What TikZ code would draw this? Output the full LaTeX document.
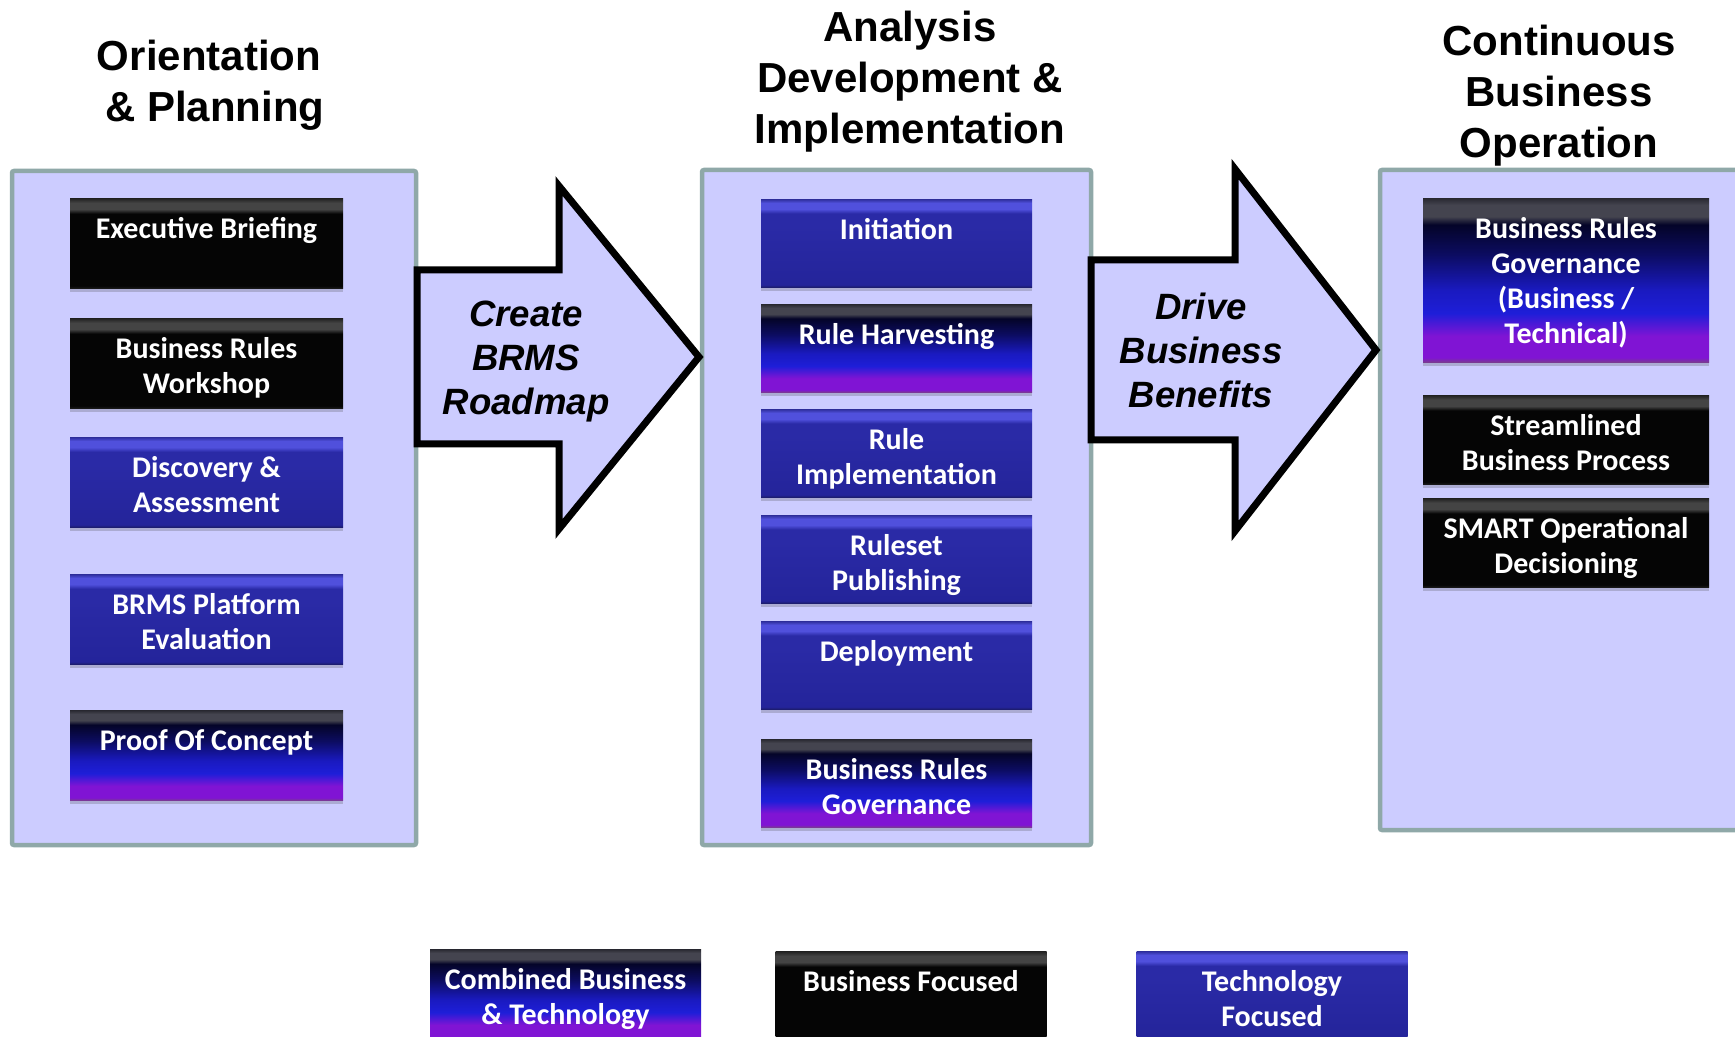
\documentclass[tikz,border=0pt]{standalone}
\usepackage{fontspec}
\setmainfont{Carlito}
\newfontfamily\headfont{Liberation Sans}
\usetikzlibrary{shadows}

\definecolor{panelfill}{HTML}{CCCCFF}
\definecolor{panelrim}{HTML}{8FA8A8}
% black "business" boxes
\definecolor{bizedge}{HTML}{1A1A1A}
\definecolor{bizbody}{HTML}{050505}
\definecolor{bizbevel}{HTML}{444444}
\definecolor{biztop}{HTML}{222222}
% blue "technology" boxes
\definecolor{techedge}{HTML}{1C1C6A}
\definecolor{techlow}{HTML}{24249A}
\definecolor{techbody}{HTML}{2A2AA6}
\definecolor{techbevel}{HTML}{5050DC}
\definecolor{techtop}{HTML}{3030A0}
% graded "combined" boxes
\definecolor{comboedge}{HTML}{7A3C8E}
\definecolor{combopurple}{HTML}{8014D4}
\definecolor{comboblue}{HTML}{1E1ED8}
\definecolor{combomid}{HTML}{1A1AC0}
\definecolor{combonavy}{HTML}{0C0C60}
\definecolor{combodark}{HTML}{040428}
\definecolor{combobevel}{HTML}{44444F}
\definecolor{combotop}{HTML}{2A2A32}

\pgfdeclareverticalshading{business}{100bp}{color(0bp)=(bizedge); color(25bp)=(bizedge);
  color(26.5bp)=(bizbody); color(66.5bp)=(bizbody); color(69bp)=(bizbevel);
  color(72.5bp)=(bizbevel); color(75bp)=(biztop); color(100bp)=(biztop)}
\pgfdeclareverticalshading{technology}{100bp}{color(0bp)=(techedge); color(25bp)=(techedge);
  color(26.5bp)=(techlow); color(60bp)=(techbody); color(67bp)=(techbody); color(69.5bp)=(techbevel);
  color(73bp)=(techbevel); color(75bp)=(techtop); color(100bp)=(techtop)}
\pgfdeclareverticalshading{combined}{100bp}{color(0bp)=(comboedge); color(25bp)=(comboedge);
  color(26.5bp)=(combopurple); color(33bp)=(combopurple); color(40bp)=(comboblue);
  color(47bp)=(combomid); color(58bp)=(combonavy); color(67bp)=(combodark); color(69.5bp)=(combobevel);
  color(73bp)=(combobevel); color(75bp)=(combotop); color(100bp)=(combotop)}

\tikzstyle{panel}=[draw=panelrim, line width=2.25pt, fill=panelfill, rounded corners=1pt]
\tikzstyle{block arrow}=[draw=black, line width=3.5pt, fill=panelfill]
\tikzstyle{phase title}=[align=center, font=\headfont\bfseries\fontsize{21pt}{25.5pt}\selectfont]
\tikzstyle{arrow text}=[align=center, font=\headfont\bfseries\itshape\fontsize{18.3pt}{22pt}\selectfont]
\tikzstyle{box}=[anchor=north, inner sep=0pt, text=white, font=\fontsize{15pt}{17.5pt}\selectfont\bfseries,
  drop shadow={shadow xshift=0pt, shadow yshift=-2pt, opacity=.25, fill=black!70}]
\tikzstyle{business box}=[box, shading=business]
\tikzstyle{technology box}=[box, shading=technology]
\tikzstyle{combined box}=[box, shading=combined]
\tikzset{box size/.style 2 args={execute at begin node={\begin{minipage}[t][#2][t]{#1}\centering\vspace*{8pt}\strut},
  execute at end node={\end{minipage}}}}

\begin{document}
\begin{tikzpicture}[x=0.5pt, y=-0.5pt]
    \path[use as bounding box, clip] (0,0) rectangle (1735,1037);
    % Draw the three phases
    \draw[panel] (12,171) rectangle (416,845);
    \draw[panel] (702,170) rectangle (1091,845);
    \draw[panel] (1380,170) rectangle (1760,830);
    \node[phase title] (orient) at (209,85) {Orientation\\\hspace*{.28em}\& Planning};
    \node[phase title] (develop) at (910,82) {Analysis\\Development \&\\Implementation};
    \node[phase title] (operate) at (1559,96) {Continuous\\Business\\Operation};
    % Block arrows between the phases
    \draw[block arrow] (417,270) -- (559,270) -- (559,186) -- (699,357) -- (559,529)
        -- (559,444) -- (417,444) -- cycle;
    \node[arrow text] (roadmap) at (526,362) {Create\\BRMS\\Roadmap};
    \draw[block arrow] (1091,260) -- (1235,260) -- (1235,169) -- (1376,350) -- (1235,531)
        -- (1235,440) -- (1091,440) -- cycle;
    \node[arrow text] (benefits) at (1201,350) {Drive\\Business\\Benefits};
    % First phase: orientation and planning
    \foreach \pos/\name/\kind/\txt in {{(206.5,198)/briefing/business box/Executive Briefing},
        {(206.5,318)/workshop/business box/Business Rules\\Workshop},
        {(206.5,437)/discovery/technology box/Discovery \&\\Assessment},
        {(206.5,574)/platform/technology box/BRMS Platform\\Evaluation},
        {(206.5,710)/concept/combined box/Proof Of Concept}}
    \node[\kind, box size={136.5pt}{45pt}] (\name) at \pos {\txt};
    % Second phase: analysis, development and implementation
    \foreach \pos/\name/\kind/\txt in {{(896.5,199)/initiation/technology box/Initiation},
        {(896.5,304)/harvesting/combined box/Rule Harvesting},
        {(896.5,409)/implement/technology box/Rule\\Implementation},
        {(896.5,515)/publishing/technology box/Ruleset\\Publishing},
        {(896.5,621)/deployment/technology box/Deployment},
        {(896.5,739)/governance/combined box/Business Rules\\Governance}}
    \node[\kind, box size={135.5pt}{44pt}] (\name) at \pos {\txt};
    % Third phase: continuous operation
    \node[combined box, box size={143pt}{82pt}] (opgov) at (1566,198)
        {Business Rules\\Governance\\(Business /\\Technical)};
    \foreach \pos/\name/\txt in {{(1566,395)/streamlined/Streamlined\\Business Process},
        {(1566,498)/smart/SMART Operational\\Decisioning}}
    \node[business box, box size={143pt}{44.5pt}] (\name) at \pos {\txt};
    % Key
    \foreach \pos/\name/\kind/\txt in {{(565.5,949)/keycombined/combined box/Combined Business\\\& Technology},
        {(911,951)/keybusiness/business box/Business Focused},
        {(1272,951)/keytechnology/technology box/Technology\\Focused}}
    \node[\kind, box size={135.5pt}{45pt}] (\name) at \pos {\txt};
\end{tikzpicture}
\end{document}
